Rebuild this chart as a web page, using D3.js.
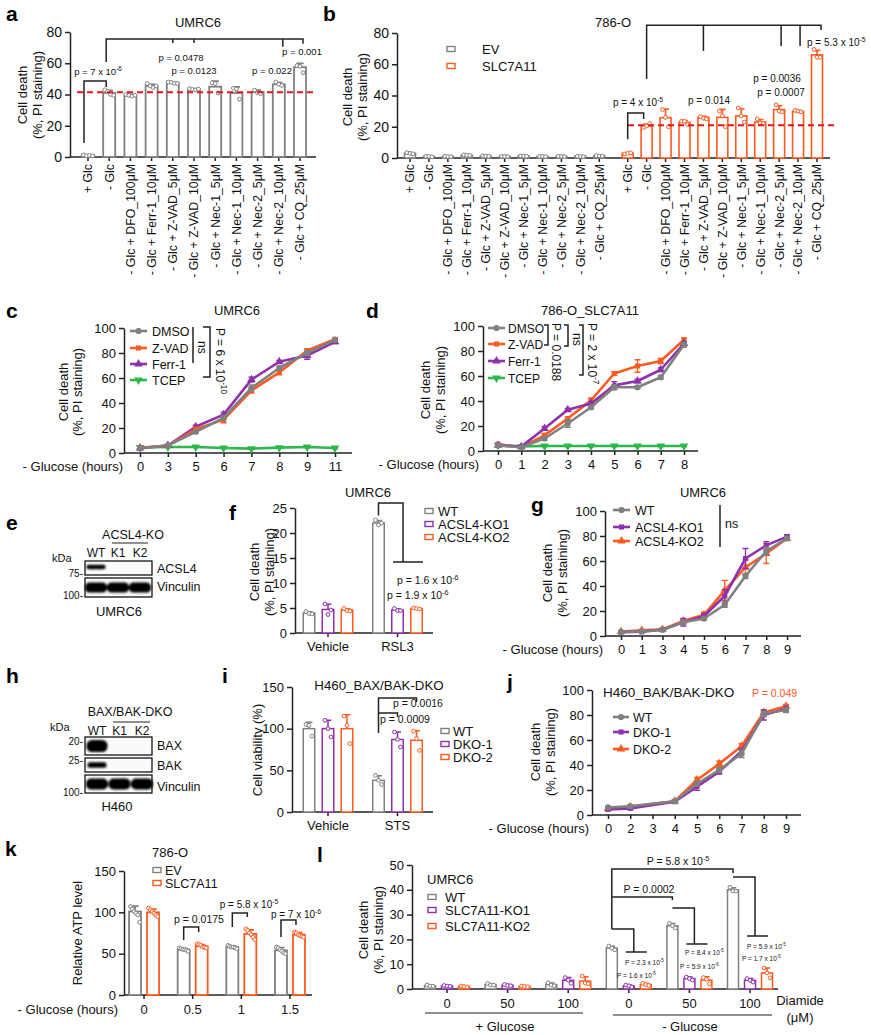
<!DOCTYPE html>
<html><head><meta charset="utf-8">
<script src="https://cdn.jsdelivr.net/npm/d3@7/dist/d3.min.js"></script>
<style>html,body{margin:0;padding:0;background:#fff;}svg{display:block}</style>
</head><body>
<script>
// ================= DATA =================
// a: UMRC6 cell death
const aCategories = ["+ Glc","- Glc","- Glc + DFO_100μM","- Glc + Ferr-1_10μM","- Glc + Z-VAD_5μM","- Glc + Z-VAD_10μM","- Glc + Nec-1_5μM","- Glc + Nec-1_10μM","- Glc + Nec-2_5μM","- Glc + Nec-2_10μM","- Glc + CQ_25μM"];
const aValues = [1,41,39.5,45.5,47.5,43.3,45,41,41.5,46.5,57.5];
const aDots = [[1.3,0.8,1,0.7],[43,42,40,39.5],[40,39.5,39,39.5],[47,45.5,44.5,45.5],[48,47.8,47.2,47],[43.8,43.2,43,43.5],[47.5,47,41],[44,43.5,37],[42.8,41,40.5],[48,46.5,45.8],[58.5,58,54]];
// b: 786-O EV / SLC7A11
const bEV = [3,1,1,1.8,1.2,1,1.2,1,1,1,1.3];
const bEVDots = [[3.4,3,2.7],[1.1,1,0.8],[1.1,0.9,0.9],[2,1.8,1.7],[1.3,1.2,1.1],[1.1,1,0.9],[1.3,1.2,1.1],[1.1,1,0.9],[1.1,1,0.9],[1.1,1,0.9],[1.5,1.3,1.2]];
const bSLC = [3,20.5,25.8,22.8,26,26,27,23,31,29.8,66];
const bSLCDots = [[2.6,3,3.3],[19.5,20.5,22],[31,26,20],[23.5,23.5,21.5],[26.5,25.5,25],[30,27,20],[32,27,23],[25,22.5,22],[34,30,29.5],[30.5,30,29.5],[69.5,64.5,64.5]];
// c: UMRC6 time course
const cHours = ["0","3","5","6","7","8","9","11"];
const cDMSO = [3.7,6,17,28,52,68,80,90.5];
const cZVAD = [4,6,19,26.7,50,64.5,82,91];
const cFerr = [4,6,21,30.7,58.7,73,78,89];
const cTCEP = [4.5,4.8,4.8,4,3.5,4.3,4.8,4];
const cDMSOErr = [0.5,0.8,1.2,1.5,2.5,1.5,2,1];
const cZVADErr = [0.5,0.8,1.5,2.5,2,2,1.5,1];
const cFerrErr = [0.5,0.8,1.2,2,2,1,3,1.5];
const cTCEPErr = [0.5,0.5,0.5,0.5,0.5,0.5,0.5,0.5];
// d: 786-O_SLC7A11 time course
const dHours = ["0","1","2","3","4","5","6","7","8"];
const dDMSO = [4.5,3,10,22,35,51,51,59,85];
const dZVAD = [5.5,3,12.5,26,40.5,62,68,72,89];
const dFerr = [4.5,3.5,18,33,38,52.5,56,65,86];
const dTCEP = [4.5,3.7,4,4,4,4,4,4,4];
const dDMSOErr = [0.5,0.5,1.5,3,1.5,2,1,1.5,2];
const dZVADErr = [0.5,0.5,1.5,1.5,2,1.5,5,2,1.5];
const dFerrErr = [0.5,0.5,1.5,1,1,3,1.5,1.5,1.5];
const dTCEPErr = [0.5,0.5,0.5,0.5,0.5,0.5,0.5,0.5,0.5];
// e: western blot ACSL4-KO
const eLanes = ["WT","K1","K2"];
const eACSL4 = [1,0,0];
const eVinculin = [1,1,1];
// f: UMRC6 RSL3
const fGroups = ["Vehicle","RSL3"];
const fSeries = ["WT","ACSL4-KO1","ACSL4-KO2"];
const fWT = [4,22], fKO1 = [4.7,4.6], fKO2 = [4.6,4.9];
const fWTDots = [[4.3,3.9,3.8],[22.6,21.6,22]];
const fKO1Dots = [[5.8,3.7,4.6],[4.9,4.5,4.5]];
const fKO2Dots = [[4.9,4.5,4.4],[5,4.9,4.8]];
// g: UMRC6 ACSL4-KO time course
const gHours = ["0","1","3","4","5","6","7","8","9"];
const gWT = [3.2,3.7,5,11,14,25,48,68,78];
const gKO1 = [3,3.5,5,11,16,32,62,72.5,79.5];
const gKO2 = [3.5,4.5,5.3,12,17,36.5,55,66,78];
const gWTErr = [0.8,0.8,0.8,1.5,1.5,2,2,3,1.5];
const gKO1Err = [0.8,0.8,1,3,2,5,8,3,1.5];
const gKO2Err = [0.8,0.8,1,1.5,2,8,6,8,1.5];
// h: western blot BAX/BAK-DKO
const hLanes = ["WT","K1","K2"];
const hBAX = [1,0,0];
const hBAK = [1,0,0];
const hVinculin = [1,1,1];
// i: H460 viability
const iGroups = ["Vehicle","STS"];
const iSeries = ["WT","DKO-1","DKO-2"];
const iWT = [100,38], iDKO1 = [100,87], iDKO2 = [100,86];
const iWTDots = [[105,104,91],[44,38,33]];
const iDKO1Dots = [[110,100,90],[96,87,78]];
const iDKO2Dots = [[115,104,82],[97,88,74]];
// j: H460 time course
const jHours = ["0","2","3","4","5","6","7","8","9"];
const jWT = [6,7,null,11,25,36,49,81,84];
const jDKO1 = [4.5,5.3,null,10.7,22.7,34.7,51,80,85];
const jDKO2 = [5.3,6.7,null,11,28,41,55,82,87];
const jWTErr = [1,1,null,1,2,2,3,2,2];
const jDKO1Err = [1,1,null,1,3,2,2,4,2];
const jDKO2Err = [1,1,null,1,2,2,2,2,1.5];
// k: relative ATP
const kHours = ["0","0.5","1","1.5"];
const kEV = [101,55,58,54];
const kSLC = [100,59,74,73];
const kEVDots = [[107,104,101,99,97,88],[57,56,55,55,54,53],[60,59,58,58,57,56],[58,57,55,53,51,50]];
const kSLCDots = [[105,103,101,99,97,95],[62,61,60,58,58,57],[80,78,75,73,70,67],[76,75,73,72,71,70]];
// l: UMRC6 diamide
const lDiamide = ["0","50","100","0","50","100"];
const lGlucose = ["+ Glucose","- Glucose"];
const lSeries = ["WT","SLC7A11-KO1","SLC7A11-KO2"];
const lWT = [1.3,1.8,1.8,16.5,25.5,40];
const lKO1 = [1.2,1.5,3.5,1.2,4.2,3.5];
const lKO2 = [1.0,1.0,3.2,1.8,3.6,6.5];
const lWTDots = [[1.6,1.2,1.1],[2.2,1.6,1.6],[2.5,1.6,1.3],[17.3,16.5,15.8],[26.5,25.5,24.6],[41,39.6,39.5]];
const lKO1Dots = [[1.4,1.2,1.1],[1.8,1.4,1.3],[4.6,3.6,2.3],[1.6,1.3,0.8],[4.8,4.2,3.6],[4.2,3.5,2.8]];
const lKO2Dots = [[1.2,1.0,0.8],[1.2,1.0,0.9],[5.2,2.4,2.1],[2.3,1.8,1.4],[4.6,3.9,2.1],[8.5,6.5,4.5]];

// ================= STYLE / HELPERS =================
const GRAY="#808080", ORANGE="#ff5a1f", PURPLE="#8f30ad", GREEN="#2db84a", RED="#e4161c", AX="#222", TXT="#111";
const F='"Liberation Sans", Arial, Helvetica, sans-serif';
const svg=d3.select("body").append("svg").attr("width",871).attr("height",1035).attr("font-family",F);
svg.append("rect").attr("width",871).attr("height",1035).attr("fill","#fff");
svg.append("defs").append("filter").attr("id","blur").attr("x","-20%").attr("y","-50%").attr("width","140%").attr("height","200%")
  .append("feGaussianBlur").attr("stdDeviation",0.9);

function T(x,y,s,o={}){
  const sz=o.size||13;
  const t=svg.append("text").attr("x",x).attr("y",y).attr("font-size",sz)
    .attr("text-anchor",o.anchor||"start").attr("fill",o.fill||TXT).text(s);
  if(o.weight) t.attr("font-weight",o.weight);
  if(o.rot) t.attr("transform",`rotate(${o.rot},${x},${y})`);
  if(o.sup) t.append("tspan").attr("dy",-sz*0.42).attr("font-size",sz*0.68).text(o.sup);
  return t;
}
function P(d,o={}){
  return svg.append("path").attr("d",d).attr("fill","none").attr("stroke",o.c||AX)
    .attr("stroke-width",o.w||1.5).attr("stroke-dasharray",o.dash||null);
}
function yAxis(y,x,ticks,size=13){
  const g=svg.append("g").attr("transform",`translate(${x},0)`)
    .call(d3.axisLeft(y).tickValues(ticks).tickSize(5).tickPadding(3).tickSizeOuter(0));
  g.select(".domain").attr("stroke",AX).attr("stroke-width",1.5);
  g.selectAll(".tick line").attr("stroke",AX).attr("stroke-width",1.5);
  g.selectAll(".tick text").attr("font-size",size).attr("font-family",F).attr("fill",TXT);
}
function xBase(x0,x1,y){ P(`M${x0},${y}H${x1}`); }
function yTitle(x1,x2,cy,l1="Cell death",l2="(%, PI staining)"){
  T(x1,cy,l1,{anchor:"middle",rot:-90});
  if(l2) T(x2,cy,l2,{anchor:"middle",rot:-90});
}
function letter(x,y,s){ T(x,y,s,{size:21,weight:"bold",fill:"#000"}); }
function barSet(xf,vals,y,w,color,dots,sw=1.6){
  const g=svg.append("g");
  g.selectAll("rect").data(vals).join("rect")
    .attr("x",(d,i)=>xf(i)-w/2).attr("y",d=>y(d)).attr("width",w).attr("height",d=>y(0)-y(d))
    .attr("fill","#fff").attr("stroke",color).attr("stroke-width",sw);
  if(!dots) return;
  dots.forEach((ds,i)=>{
    const m=vals[i], sd=d3.deviation(ds)||0, cx=xf(i), cw=Math.min(w*0.3,4);
    g.append("path").attr("d",`M${cx},${y(m)}V${y(m+sd)}M${cx-cw},${y(m+sd)}H${cx+cw}`)
      .attr("stroke",color).attr("stroke-width",sw).attr("fill","none");
    const n=ds.length, step=n>4?1.8:3;
    ds.forEach((v,k)=>g.append("circle").attr("cx",cx+(k-(n-1)/2)*step).attr("cy",y(v)).attr("r",1.9)
      .attr("fill","#fff").attr("stroke",color).attr("stroke-width",1));
  });
}
function rotLabels(cats,xf,y0,size=12.3){
  cats.forEach((c,i)=>T(xf(i)+size*0.36,y0,c,{anchor:"end",rot:-90,size}));
}
const SYMP={circle:d3.symbol().type(d3.symbolCircle).size(30)(),square:d3.symbol().type(d3.symbolSquare).size(26)(),tri:d3.symbol().type(d3.symbolTriangle).size(32)()};
function sym(x,y,kind,color){
  svg.append("path").attr("d",kind==="triDown"?SYMP.tri:SYMP[kind]).attr("fill",color)
    .attr("transform",`translate(${x},${y})${kind==="triDown"?" rotate(180)":""}`);
}
function legSq(x,y,color,label,tx,size=13){
  svg.append("rect").attr("x",x).attr("y",y-2.5).attr("width",8).attr("height",5).attr("fill","#fff").attr("stroke",color).attr("stroke-width",1.4);
  T(tx,y+4.5,label,{size});
}
function linePanel(o){
  const x=d3.scalePoint().domain(o.hours).range(o.xr);
  const y=d3.scaleLinear().domain([0,100]).range(o.yr);
  yAxis(y,o.ax,[0,20,40,60,80,100]);
  xBase(o.ax,o.xend,o.yr[0]);
  const gx=svg.append("g").attr("transform",`translate(0,${o.yr[0]})`).call(d3.axisBottom(x).tickSize(4).tickPadding(5));
  gx.select(".domain").remove();
  gx.selectAll(".tick line").attr("stroke",AX).attr("stroke-width",1.5);
  gx.selectAll(".tick text").attr("font-size",13).attr("font-family",F).attr("fill",TXT);
  T(o.glx,o.yr[0]+18,"- Glucose (hours)",{anchor:"end"});
  const order=o.order||o.series.map((s,i)=>i);
  order.forEach(si=>{
    const s=o.series[si];
    const pts=o.hours.map((h,i)=>({x:x(h),v:s.v[i],e:s.e?s.e[i]:0})).filter(p=>p.v!=null);
    svg.append("path").attr("d",d3.line().x(p=>p.x).y(p=>y(p.v))(pts)).attr("fill","none")
      .attr("stroke",s.c).attr("stroke-width",2.6).attr("stroke-linejoin","round");
    pts.forEach(p=>{
      if(p.e) P(`M${p.x},${y(p.v-p.e)}V${y(p.v+p.e)}M${p.x-3},${y(p.v+p.e)}H${p.x+3}M${p.x-3},${y(p.v-p.e)}H${p.x+3}`,{c:s.c,w:1.3});
      sym(p.x,y(p.v),s.m,s.c);
    });
  });
  o.series.forEach((s,i)=>{
    const ly=o.leg.y[i];
    P(`M${o.leg.x0},${ly}H${o.leg.x1}`,{c:s.c,w:2.6});
    sym((o.leg.x0+o.leg.x1)/2,ly,s.m,s.c);
    T(o.leg.tx,ly+4.5,s.name,{size:o.leg.size||12.5});
  });
  return {x,y};
}
function blot(lanes,xr,rows){
  const lx=d3.scalePoint().domain(lanes).range(xr);
  rows.forEach(r=>{
    svg.append("rect").attr("x",85).attr("y",r.y).attr("width",67).attr("height",r.h).attr("fill","#fafafa").attr("stroke","#000").attr("stroke-width",1.2);
    const g=svg.append("g").attr("filter","url(#blur)");
    lanes.forEach((l,i)=>{ if(r.v[i]>0) g.append("rect").attr("x",lx(l)-r.bw/2).attr("y",r.y+r.h/2-r.bh/2+(r.dy||0))
      .attr("width",r.bw).attr("height",r.bh).attr("rx",r.bh/2.2).attr("fill","#000").attr("opacity",r.v[i]); });
    T(157,r.ty,r.name,{size:12.5});
    T(83,r.my,r.mw,{size:10,anchor:"end"});
  });
}

// ================= PANEL a =================
{
  const x=d3.scalePoint().domain(aCategories).range([88,300]);
  const y=d3.scaleLinear().domain([0,80]).range([157,32]);
  yAxis(y,70,[0,20,40,60,80],14);
  xBase(70,316,157);
  aCategories.forEach(c=>P(`M${x(c)},157V161`));
  rotLabels(aCategories,i=>x(aCategories[i]),164);
  barSet(i=>x(aCategories[i]),aValues,y,12,GRAY,aDots,1.8);
  P(`M77,${y(41.5)}H317`,{c:RED,w:2,dash:"6,4"});
  T(198,27,"UMRC6",{anchor:"middle"});
  letter(6,21,"a");
  yTitle(27,42,95);
  const X=i=>x(aCategories[i]);
  P(`M${X(0)-4},${y(9)}V${y(48.6)}H${X(1)-3}V${y(44.8)}`);
  T(98,y(52.5),"p = 7 x 10",{anchor:"middle",size:9.5,sup:"-6"});
  P(`M${X(1)-3},${y(60.8)}V${y(75.5)}H${X(10)+3}V${y(72.5)}M${X(4)},${y(75.5)}V${y(73)}M${X(5)},${y(75.5)}V${y(73)}M${X(9)+4},${y(75.5)}V${y(70.5)}`);
  T(181,y(61.4),"p = 0.0478",{anchor:"middle",size:9.5});
  T(194,y(53.1),"p = 0.0123",{anchor:"middle",size:9.5});
  T(272,y(53.1),"p = 0.022",{anchor:"middle",size:9.5});
  T(302,y(65),"p = 0.001",{anchor:"middle",size:9.5});
}
// ================= PANEL b =================
{
  const bx=d3.scaleLinear().domain([0,21.5]).range([410,817]);
  const y=d3.scaleLinear().domain([0,80]).range([158,33]);
  yAxis(y,397,[0,20,40,60,80],14);
  xBase(397,830,158);
  aCategories.forEach((c,i)=>{P(`M${bx(i)},158V162`);P(`M${bx(i+11.5)},158V162`);});
  rotLabels(aCategories,i=>bx(i),164);
  rotLabels(aCategories,i=>bx(i+11.5),164);
  barSet(i=>bx(i),bEV,y,11,GRAY,bEVDots,1.6);
  barSet(i=>bx(i+11.5),bSLC,y,11,ORANGE,bSLCDots,1.6);
  P(`M628,${y(21)}H837`,{c:RED,w:2,dash:"6,4"});
  letter(323,21,"b");
  T(613,27,"786-O",{anchor:"middle"});
  yTitle(352,367,97);
  legSq(447,49,GRAY,"EV",482);
  legSq(447,66,ORANGE,"SLC7A11",482);
  P(`M${bx(11.5)},${y(12)}V${y(28.8)}H${bx(12.5)-3}V${y(25)}`);
  T(638,106,"p = 4 x 10",{anchor:"middle",size:10,sup:"-5"});
  P(`M${bx(12.5)},${y(50.6)}V${y(85)}H${bx(21.5)+4}V${y(82)}M${bx(15.5)},${y(85)}V${y(68.5)}M${bx(19.5)+2},${y(85)}V${y(71.7)}M${bx(20.5)+2},${y(85)}V${y(71.7)}`);
  T(807,46,"p = 5.3 x 10",{size:10,sup:"-5"});
  T(777,82,"p = 0.0036",{anchor:"middle",size:10});
  T(781,96,"p = 0.0007",{anchor:"middle",size:10});
  T(709,104,"p = 0.014",{anchor:"middle",size:10});
}
// ================= PANEL c =================
{
  letter(6,318,"c");
  T(237,315,"UMRC6",{anchor:"middle"});
  yTitle(68,82,392);
  linePanel({hours:cHours,xr:[140,335],yr:[453,328],ax:124,xend:352,glx:123,
    series:[{name:"DMSO",v:cDMSO,e:cDMSOErr,c:GRAY,m:"circle"},{name:"Z-VAD",v:cZVAD,e:cZVADErr,c:ORANGE,m:"square"},
            {name:"Ferr-1",v:cFerr,e:cFerrErr,c:PURPLE,m:"tri"},{name:"TCEP",v:cTCEP,e:cTCEPErr,c:GREEN,m:"triDown"}],
    order:[3,2,1,0],leg:{x0:130,x1:147,tx:152,y:[331,348,364,380]}});
  P(`M193,327V363`);
  T(198,341,"ns",{rot:90,size:12});
  P(`M203,327H210V377H203`);
  T(216,328,"P = 6 x 10",{rot:90,size:12,sup:"-10"});
}
// ================= PANEL d =================
{
  letter(366,318,"d");
  T(590,315,"786-O_SLC7A11",{anchor:"middle"});
  yTitle(430,445,390);
  linePanel({hours:dHours,xr:[498,684],yr:[451,326],ax:483,xend:698,glx:479,
    series:[{name:"DMSO",v:dDMSO,e:dDMSOErr,c:GRAY,m:"circle"},{name:"Z-VAD",v:dZVAD,e:dZVADErr,c:ORANGE,m:"square"},
            {name:"Ferr-1",v:dFerr,e:dFerrErr,c:PURPLE,m:"tri"},{name:"TCEP",v:dTCEP,e:dTCEPErr,c:GREEN,m:"triDown"}],
    order:[3,1,2,0],leg:{x0:488,x1:505,tx:508,y:[328,344,361,378],size:12}});
  P(`M544,325H548V345H544`);
  T(552,323,"P = 0.0188",{rot:90,size:12});
  P(`M564,325H568V346H564`);
  T(573,333,"ns",{rot:90,size:12});
  P(`M579,325H583V375H579`);
  T(588,323,"P = 2 x 10",{rot:90,size:12,sup:"-7"});
}
// ================= PANEL e =================
{
  letter(6,530,"e");
  T(133,539,"ACSL4-KO",{anchor:"middle",size:12.5});
  P(`M112,543H148`,{w:1.2});
  T(52,562,"kDa",{size:11});
  const lx=d3.scalePoint().domain(eLanes).range([96,140]);
  eLanes.forEach(l=>T(lx(l),557,l,{anchor:"middle",size:12}));
  blot(eLanes,[96,140],[
    {name:"ACSL4",y:561,h:14,v:eACSL4,bw:19,bh:4.5,dy:-1,ty:573,mw:"75-",my:577},
    {name:"Vinculin",y:578,h:19,v:eVinculin,bw:22,bh:10,ty:591,mw:"100-",my:599}]);
  T(119,616,"UMRC6",{anchor:"middle"});
}
// ================= PANEL f =================
{
  letter(229,520,"f");
  T(368,497,"UMRC6",{anchor:"middle"});
  const gx=d3.scaleBand().domain(fGroups).range([293.25,432.25]);
  const sx=d3.scalePoint().domain(fSeries).range([-19,19]);
  const y=d3.scaleLinear().domain([0,25]).range([633,508]);
  yAxis(y,295,[0,5,10,15,20,25]);
  xBase(295,433,633);
  const C=g=>gx(g)+gx.bandwidth()/2;
  fGroups.forEach(g=>{P(`M${C(g)},633V637`);T(C(g),651,g,{anchor:"middle"});});
  [[fWT,fWTDots,GRAY],[fKO1,fKO1Dots,PURPLE],[fKO2,fKO2Dots,ORANGE]].forEach(([v,d,c],k)=>
    barSet(i=>C(fGroups[i])+sx(fSeries[k]),v,y,11.5,c,d,1.5));
  yTitle(259,274,572);
  fSeries.forEach((s,k)=>legSq(425,[511,524,537][k],[GRAY,PURPLE,ORANGE][k],s,438));
  const wx=C("RSL3")+sx("WT");
  P(`M${wx},${y(23.5)}V503H403V562M393,562H423`);
  T(397,584,"p = 1.6 x 10",{size:10.5,sup:"-6"});
  T(387,599,"p = 1.9 x 10",{size:10.5,sup:"-6"});
}
// ================= PANEL g =================
{
  letter(531,512,"g");
  T(703,497,"UMRC6",{anchor:"middle"});
  yTitle(552,567,573);
  linePanel({hours:gHours,xr:[621,787],yr:[636,511],ax:605,xend:801,glx:603,
    series:[{name:"WT",v:gWT,e:gWTErr,c:GRAY,m:"circle"},{name:"ACSL4-KO1",v:gKO1,e:gKO1Err,c:PURPLE,m:"square"},
            {name:"ACSL4-KO2",v:gKO2,e:gKO2Err,c:ORANGE,m:"tri"}],
    order:[2,1,0],leg:{x0:613,x1:630,tx:635,y:[510,527,541]}});
  P(`M720,505V547`);
  T(725,528,"ns",{size:12.5});
}
// ================= PANEL h =================
{
  letter(6,683,"h");
  T(130,716,"BAX/BAK-DKO",{anchor:"middle",size:12.5});
  P(`M113,722H150`,{w:1.2});
  T(50,731,"kDa",{size:11});
  const lx=d3.scalePoint().domain(hLanes).range([97,142]);
  hLanes.forEach(l=>T(lx(l),735,l,{anchor:"middle",size:12}));
  blot(hLanes,[97,142],[
    {name:"BAX",y:737,h:18,v:hBAX,bw:21,bh:12,ty:750,mw:"20-",my:745},
    {name:"BAK",y:758,h:14,v:hBAK,bw:19,bh:5.5,ty:770,mw:"25-",my:764},
    {name:"Vinculin",y:775,h:18,v:hVinculin,bw:22,bh:11,ty:791,mw:"100-",my:796}]);
  T(117,811,"H460",{anchor:"middle"});
}
// ================= PANEL i =================
{
  letter(222,683,"i");
  T(379,690,"H460_BAX/BAK-DKO",{anchor:"middle",size:13.3});
  const gx=d3.scaleBand().domain(iGroups).range([293.25,432.25]);
  const sx=d3.scalePoint().domain(iSeries).range([-19,19]);
  const y=d3.scaleLinear().domain([0,150]).range([812,687]);
  yAxis(y,292,[0,50,100,150]);
  xBase(292,433,812);
  const C=g=>gx(g)+gx.bandwidth()/2;
  iGroups.forEach(g=>{P(`M${C(g)},812V816`);T(C(g),830,g,{anchor:"middle"});});
  [[iWT,iWTDots,GRAY],[iDKO1,iDKO1Dots,PURPLE],[iDKO2,iDKO2Dots,ORANGE]].forEach(([v,d,c],k)=>
    barSet(i=>C(iGroups[i])+sx(iSeries[k]),v,y,11.5,c,d,1.5));
  T(262,750,"Cell viability (%)",{anchor:"middle",rot:-90});
  iSeries.forEach((s,k)=>legSq(441,[731,744,757][k],[GRAY,PURPLE,ORANGE][k],s,453));
  const wx=C("STS")+sx("WT");
  P(`M${wx},733V698H${C("STS")+sx("DKO-2")}V702M${wx},713H${C("STS")+sx("DKO-1")}V717`);
  T(393,707,"p = 0.0016",{size:10.5});
  T(380,723,"p = 0.0009",{size:10.5});
}
// ================= PANEL j =================
{
  letter(507,689,"j");
  T(603,697,"H460_BAK/BAK-DKO",{size:13.5});
  T(752,697,"P = 0.049",{size:10.5,fill:ORANGE});
  yTitle(540,555,752);
  linePanel({hours:jHours,xr:[608,786],yr:[815,690],ax:592,xend:801,glx:589,
    series:[{name:"WT",v:jWT,e:jWTErr,c:GRAY,m:"circle"},{name:"DKO-1",v:jDKO1,e:jDKO1Err,c:PURPLE,m:"square"},
            {name:"DKO-2",v:jDKO2,e:jDKO2Err,c:ORANGE,m:"tri"}],
    order:[2,1,0],leg:{x0:613,x1:629,tx:633,y:[717,732,749]}});
}
// ================= PANEL k =================
{
  letter(5,856,"k");
  T(152,857,"786-O");
  const gx=d3.scaleBand().domain(kHours).range([119.7,314.3]);
  const C=g=>gx(g)+gx.bandwidth()/2;
  const y=d3.scaleLinear().domain([0,150]).range([995,871]);
  yAxis(y,124,[0,50,100,150]);
  xBase(124,312,995);
  kHours.forEach(h=>{P(`M${C(h)},995V999`);T(C(h),1014,h,{anchor:"middle"});});
  T(118,1014,"- Glucose (hours)",{anchor:"end"});
  barSet(i=>C(kHours[i])-9,kEV,y,12,GRAY,kEVDots,1.8);
  barSet(i=>C(kHours[i])+9,kSLC,y,12,ORANGE,kSLCDots,1.8);
  T(82,933,"Relative ATP level",{anchor:"middle",rot:-90});
  legSq(153,870,GRAY,"EV",165,12.5);
  legSq(153,883,ORANGE,"SLC7A11",165,12.5);
  const E=h=>C(h)-9, S=h=>C(h)+6;
  P(`M${E("0.5")},940V927H${S("0.5")}V932`);
  T(199,923,"p = 0.0175",{anchor:"middle",size:10.5});
  P(`M${E("1")},927V913H${S("1")}V917`);
  T(249,908,"p = 5.8 x 10",{anchor:"middle",size:10,sup:"-5"});
  P(`M${E("1.5")},937V920H${S("1.5")}V925`);
  T(296,918,"p = 7 x 10",{anchor:"middle",size:10,sup:"-6"});
}
// ================= PANEL l =================
{
  letter(317,862,"l");
  const gx=d3.scalePoint().domain(d3.range(6)).range([447,750]);
  const sx=d3.scalePoint().domain(lSeries).range([-17,17]);
  const y=d3.scaleLinear().domain([0,50]).range([989,865]);
  yAxis(y,412,[0,10,20,30,40,50]);
  xBase(412,778,989);
  lDiamide.forEach((d,i)=>{P(`M${gx(i)},989V993`);T(gx(i),1008,d,{anchor:"middle"});});
  [[lWT,lWTDots,GRAY],[lKO1,lKO1Dots,PURPLE],[lKO2,lKO2Dots,ORANGE]].forEach(([v,d,c],k)=>
    barSet(i=>gx(i)+sx(lSeries[k]),v,y,11,c,d,1.5));
  yTitle(368,383,930);
  T(427,884,"UMRC6");
  lSeries.forEach((s,k)=>legSq(428,[897,910,926][k],[GRAY,PURPLE,ORANGE][k],s,445));
  P(`M425,1013H583`,{w:1.2}); T(505,1031,lGlucose[0],{anchor:"middle"});
  P(`M613,1015H772`,{w:1.2}); T(690,1031,lGlucose[1],{anchor:"middle"});
  T(800,1005,"Diamide",{anchor:"middle"});
  T(800,1022,"(μM)",{anchor:"middle"});
  const W=i=>gx(i)+sx("WT"), K1=i=>gx(i)+sx("SLC7A11-KO1"), K2=i=>gx(i)+sx("SLC7A11-KO2");
  P(`M${W(3)},929V869H${W(5)}V873`);
  T(678,865,"P = 5.8 x 10",{anchor:"middle",size:10.5,sup:"-5"});
  P(`M${W(3)},897H${W(4)}V900`);
  T(649,893,"P = 0.0002",{anchor:"middle",size:10.5});
  [[3,929,952],[4,908,944],[5,877,936]].forEach(([i,t,b])=>{
    P(`M${W(i)},${t}H${K1(i)+5}V${b}M${K1(i)-3},${b}H${K2(i)+1}`);
  });
  T(625,965,"P = 2.3 x 10",{size:6.5,sup:"-5"});
  T(617,978,"P = 1.6 x 10",{size:6.5,sup:"-5"});
  T(685,955,"P = 8.4 x 10",{size:6.5,sup:"-5"});
  T(680,969,"P = 5.9 x 10",{size:6.5,sup:"-6"});
  T(747,949,"P = 5.9 x 10",{size:6.5,sup:"-5"});
  T(742,961,"P = 1.7 x 10",{size:6.5,sup:"-5"});
}
</script>
</body></html>
